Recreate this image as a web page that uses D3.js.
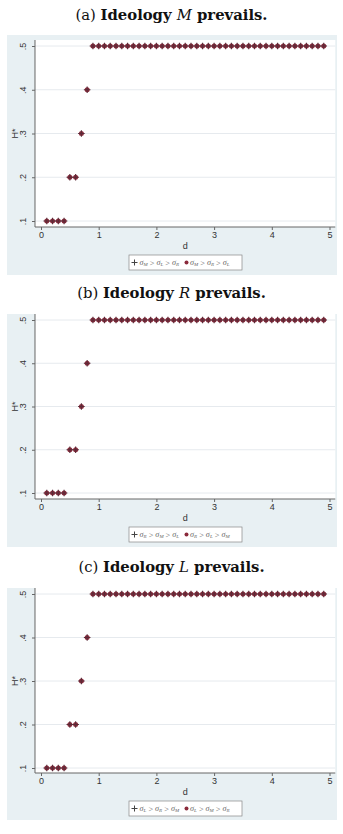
<!DOCTYPE html>
<html>
<head>
<meta charset="utf-8">
<script src="https://cdn.jsdelivr.net/npm/d3@7"></script>
<style>
  body { margin: 0; background: #fff; }
  svg { display: block; }
</style>
</head>
<body>
<svg id="fig" width="343" height="834"></svg>
<script>
// values: every panel has the same grid of d
var dValues = [0.1, 0.2, 0.3, 0.4, 0.5, 0.6, 0.7, 0.8, 0.9, 1.0,
               1.1, 1.2, 1.3, 1.4, 1.5, 1.6, 1.7, 1.8, 1.9, 2.0,
               2.1, 2.2, 2.3, 2.4, 2.5, 2.6, 2.7, 2.8, 2.9, 3.0,
               3.1, 3.2, 3.3, 3.4, 3.5, 3.6, 3.7, 3.8, 3.9, 4.0,
               4.1, 4.2, 4.3, 4.4, 4.5, 4.6, 4.7, 4.8, 4.9];
var hA = [.1, .1, .1, .1, .2, .2, .3, .4, .5, .5,
          .5, .5, .5, .5, .5, .5, .5, .5, .5, .5,
          .5, .5, .5, .5, .5, .5, .5, .5, .5, .5,
          .5, .5, .5, .5, .5, .5, .5, .5, .5, .5,
          .5, .5, .5, .5, .5, .5, .5, .5, .5];
var hB = [.1, .1, .1, .1, .2, .2, .3, .4, .5, .5,
          .5, .5, .5, .5, .5, .5, .5, .5, .5, .5,
          .5, .5, .5, .5, .5, .5, .5, .5, .5, .5,
          .5, .5, .5, .5, .5, .5, .5, .5, .5, .5,
          .5, .5, .5, .5, .5, .5, .5, .5, .5];
var hC = [.1, .1, .1, .1, .2, .2, .3, .4, .5, .5,
          .5, .5, .5, .5, .5, .5, .5, .5, .5, .5,
          .5, .5, .5, .5, .5, .5, .5, .5, .5, .5,
          .5, .5, .5, .5, .5, .5, .5, .5, .5, .5,
          .5, .5, .5, .5, .5, .5, .5, .5, .5];
var xTicks = [0, 1, 2, 3, 4, 5];
var yTicks = [.1, .2, .3, .4, .5];
var yTickLabels = [".1", ".2", ".3", ".4", ".5"];
var panelLetters = ["a", "b", "c"];
var panelIdeology = ["M", "R", "L"];
// sigma orderings in the legends: plus series, dot series
var legendPlus = [["M", "L", "R"], ["R", "M", "L"], ["L", "R", "M"]];
var legendDot = [["M", "R", "L"], ["R", "L", "M"], ["L", "M", "R"]];

var panels = [
  {h: hA, titleY: 20, bgTop: 35, bgBot: 275, y5: 46, y1: 221, axisY: 227},
  {h: hB, titleY: 298, bgTop: 314, bgBot: 547, y5: 320, y1: 493, axisY: 499},
  {h: hC, titleY: 572, bgTop: 588, bgBot: 820, y5: 594, y1: 768, axisY: 773}
];

var svg = d3.select("#fig");
var maroon = "#8a2a3b";
var plusCol = "#5a2b38";
var sans = "Liberation Sans, Arial, sans-serif";

panels.forEach(function (p, i) {
    var g = svg.append("g");

    // caption
    var t = g.append("text")
        .attr("x", 171.5).attr("y", p.titleY)
        .attr("text-anchor", "middle")
        .attr("font-family", "DejaVu Serif, serif")
        .attr("font-size", 14.8)
        .attr("fill", "#111");
    t.append("tspan").text("(" + panelLetters[i] + ") ");
    t.append("tspan").attr("font-weight", "bold").text("Ideology ");
    t.append("tspan").attr("font-style", "italic").text(panelIdeology[i]);
    t.append("tspan").attr("font-weight", "bold").text(" prevails.");

    var x = d3.scaleLinear().domain([0, 5]).range([41, 329.5]);
    var y = d3.scaleLinear().domain([.1, .5]).range([p.y1, p.y5]);

    // graph region
    g.append("rect")
        .attr("x", 7).attr("y", p.bgTop)
        .attr("width", 330).attr("height", p.bgBot - p.bgTop)
        .attr("fill", "#e8f0f3");

    var top = p.y5 - 6;
    g.append("rect")
        .attr("x", x(-0.104)).attr("y", top)
        .attr("width", x(5.1) - x(-0.104)).attr("height", p.axisY - top)
        .attr("fill", "#fff");

    // grid
    g.selectAll(".grid").data(yTicks).enter().append("line")
        .attr("x1", x(-0.104)).attr("x2", x(5.1))
        .attr("y1", d => y(d)).attr("y2", d => y(d))
        .attr("stroke", "#e6eaee").attr("stroke-width", 1);

    // axes
    var yAxis = d3.axisLeft(y).tickValues(yTicks)
        .tickFormat((d, k) => yTickLabels[k]).tickSize(3).tickPadding(3);
    var ya = g.append("g").attr("transform", "translate(" + x(-0.104) + ",0)").call(yAxis);
    ya.select(".domain").attr("d", "M0," + top + "V" + p.axisY).attr("stroke", "#666");
    ya.selectAll(".tick line").attr("stroke", "#666");
    ya.selectAll(".tick text")
        .attr("transform", "rotate(-90)")
        .attr("x", 0).attr("y", -9).attr("dy", 0)
        .attr("text-anchor", "middle")
        .attr("font-family", sans)
        .attr("font-size", 9).attr("fill", "#333");

    var xAxis = d3.axisBottom(x).tickValues(xTicks).tickFormat(d3.format("d"))
        .tickSize(3).tickPadding(2);
    var xa = g.append("g").attr("transform", "translate(0," + p.axisY + ")").call(xAxis);
    xa.select(".domain").attr("d", "M" + x(-0.104) + ",0H" + x(5.1)).attr("stroke", "#666");
    xa.selectAll(".tick line").attr("stroke", "#666");
    xa.selectAll(".tick text")
        .attr("font-family", sans)
        .attr("font-size", 9).attr("fill", "#333");

    g.append("text")
        .attr("x", x(2.5)).attr("y", p.axisY + 22)
        .attr("text-anchor", "middle")
        .attr("font-family", sans)
        .attr("font-size", 9).attr("fill", "#333").text("d");

    g.append("text")
        .attr("transform", "translate(18," + y(.3) + ") rotate(-90)")
        .attr("text-anchor", "middle")
        .attr("font-family", sans)
        .attr("font-size", 9).attr("fill", "#333").text("H*");

    var pts = dValues.map((d, k) => ({d: d, h: p.h[k]}));

    // dot series, then plus series on top
    g.selectAll(".dot").data(pts).enter().append("circle")
        .attr("cx", d => x(d.d)).attr("cy", d => y(d.h))
        .attr("r", 2.5).attr("fill", maroon);
    g.selectAll(".plus").data(pts).enter().append("path")
        .attr("d", d => "M" + (x(d.d) - 3.3) + "," + y(d.h) + "h6.6M" + x(d.d) + "," + (y(d.h) - 3.3) + "v6.6")
        .attr("stroke", plusCol).attr("stroke-width", 1.1);

    // legend
    var ly = p.axisY + 28;
    g.append("rect")
        .attr("x", 129).attr("y", ly).attr("width", 113).attr("height", 15)
        .attr("fill", "#fff").attr("stroke", "#888").attr("stroke-width", 0.7);
    g.append("path")
        .attr("d", "M131.5," + (ly + 7.5) + "h6M134.5," + (ly + 4.5) + "v6")
        .attr("stroke", "#444").attr("stroke-width", 1);
    g.append("circle").attr("cx", 186.5).attr("cy", ly + 7.5).attr("r", 2).attr("fill", maroon);

    function legendText(xx, order) {
        var lt = g.append("text").attr("x", xx).attr("y", ly + 9.8)
            .attr("font-family", "Liberation Serif, serif")
            .attr("font-size", 8.2).attr("fill", "#666");
        order.forEach(function (s, k) {
            lt.append("tspan").attr("font-style", "italic").attr("dy", k === 0 ? 0 : -1.5).text("σ");
            lt.append("tspan").attr("font-size", 5).attr("font-style", "italic").attr("dy", 1.5).text(s);
            if (k < 2) lt.append("tspan").text(" > ");
        });
    }
    legendText(139.5, legendPlus[i]);
    legendText(190, legendDot[i]);
});
</script>
</body>
</html>
